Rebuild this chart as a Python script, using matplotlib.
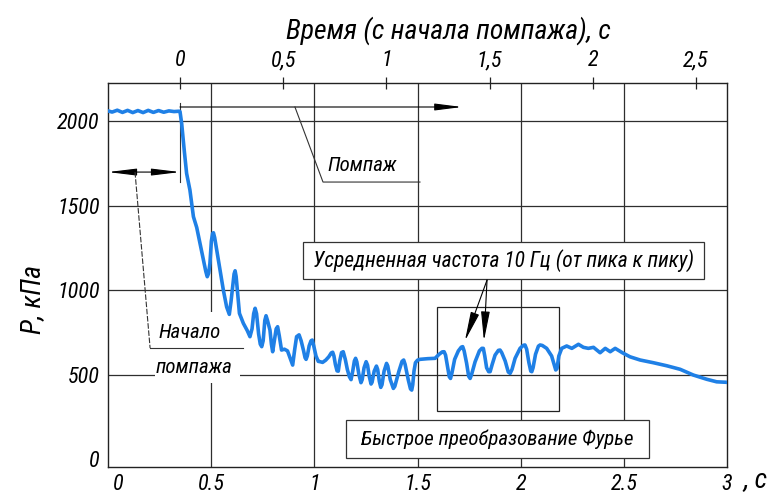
import matplotlib
matplotlib.use('Agg')
import matplotlib.pyplot as plt
from matplotlib import font_manager as fm
from matplotlib.patches import Rectangle
import matplotlib.transforms as mtrans

# ---------------- data ----------------
time_s = [0.0, 0.02, 0.045, 0.07, 0.095, 0.12, 0.145, 0.17, 0.195, 0.22, 0.245, 0.27, 0.295, 0.32, 0.345,
          0.349, 0.357, 0.370, 0.381, 0.397, 0.414, 0.430, 0.446, 0.462, 0.474, 0.481, 0.488, 0.494, 0.501, 0.507,
          0.511, 0.517, 0.527, 0.543, 0.559, 0.575, 0.588, 0.596, 0.604, 0.611, 0.616, 0.621, 0.627, 0.637, 0.656,
          0.675, 0.688, 0.698, 0.706, 0.713, 0.720, 0.730, 0.738, 0.745, 0.752, 0.760, 0.766, 0.773, 0.785,
          0.792, 0.798, 0.806, 0.815, 0.822, 0.830, 0.841, 0.855, 0.870, 0.882, 0.895, 0.905, 0.914, 0.926,
          0.936, 0.948, 0.955, 0.960, 0.966, 0.975, 0.984, 0.990, 0.997, 1.008, 1.019, 1.028, 1.040, 1.055,
          1.070, 1.082, 1.089, 1.095, 1.102, 1.110, 1.116, 1.123, 1.132, 1.140, 1.150, 1.160, 1.170, 1.178,
          1.186, 1.194, 1.200, 1.206, 1.216, 1.226, 1.232, 1.241, 1.251, 1.258, 1.266, 1.275, 1.280, 1.290,
          1.301, 1.307, 1.315, 1.322, 1.328, 1.338, 1.350, 1.356, 1.368, 1.383, 1.390, 1.410, 1.425, 1.433,
          1.440, 1.455, 1.466, 1.472, 1.477, 1.483, 1.490, 1.500, 1.512, 1.550, 1.585, 1.605, 1.620, 1.629,
          1.636, 1.645, 1.654, 1.660, 1.667, 1.680, 1.698, 1.712, 1.719, 1.726, 1.738, 1.748, 1.755, 1.762,
          1.779, 1.800, 1.812, 1.819, 1.826, 1.835, 1.845, 1.852, 1.862, 1.876, 1.892, 1.900, 1.908, 1.925,
          1.940, 1.949, 1.958, 1.973, 1.997, 2.013, 2.021, 2.029, 2.040, 2.049, 2.054, 2.060, 2.072, 2.086,
          2.094, 2.105, 2.126, 2.150, 2.162, 2.170, 2.176, 2.185, 2.199, 2.223, 2.248, 2.280, 2.304, 2.328,
          2.353, 2.385, 2.410, 2.434, 2.458, 2.477, 2.493, 2.530, 2.579, 2.643, 2.708, 2.773, 2.837, 2.902,
          2.950, 3.000]
pressure_kpa = [2060, 2053, 2064, 2051, 2063, 2050, 2062, 2050, 2063, 2051, 2062, 2052, 2060, 2056, 2058,
                2056, 1986, 1820, 1690, 1592, 1434, 1370, 1276, 1180, 1110, 1079, 1100, 1158, 1290, 1335,
                1339, 1310, 1237, 1118, 1000, 900, 856, 930, 1020, 1095, 1114, 1080, 1000, 862, 803,
                760, 724, 770, 860, 892, 860, 740, 680, 665, 700, 820, 848, 820, 763,
                680, 635, 700, 770, 783, 730, 645, 650, 640, 600, 556, 650, 724, 735,
                700, 640, 600, 590, 610, 670, 700, 704, 670, 610, 578, 576, 572, 585,
                605, 628, 632, 610, 560, 522, 520, 580, 630, 635, 590, 530, 487, 470,
                520, 580, 596, 575, 500, 452, 470, 540, 576, 555, 490, 444, 455, 520,
                550, 530, 460, 424, 440, 520, 566, 550, 470, 418, 430, 520, 578, 586,
                560, 470, 415, 408, 440, 520, 570, 585, 590, 594, 596, 620, 634, 635,
                615, 550, 487, 477, 510, 590, 640, 662, 665, 640, 567, 490, 477, 500,
                575, 640, 655, 655, 610, 540, 517, 517, 560, 615, 643, 645, 630, 580,
                515, 507, 530, 596, 655, 673, 675, 650, 570, 520, 517, 540, 620, 668,
                675, 672, 655, 610, 560, 527, 535, 610, 655, 669, 655, 679, 661, 655,
                661, 629, 655, 635, 655, 641, 629, 605, 586, 570, 552, 531, 497, 472,
                457, 454]

x_ticks = [0, 0.5, 1, 1.5, 2, 2.5, 3]
x_tick_labels = ["0", "0.5", "1", "1.5", "2", "2.5", "3"]
y_ticks = [0, 500, 1000, 1500, 2000]
y_tick_labels = ["0", "500", "1000", "1500", "2000"]
surge_offset = 0.349
top_ticks = [0, 0.5, 1, 1.5, 2, 2.5]
top_tick_labels = ["0", "0,5", "1", "1,5", "2", "2,5"]

# ---------------- font ----------------
names = {f.name for f in fm.fontManager.ttflist}
FONT = 'DejaVu Sans'
for c in ['Liberation Sans Narrow', 'Roboto Condensed', 'DejaVu Sans Condensed',
          'Open Sans Condensed', 'Liberation Sans']:
    if c in names:
        FONT = c
        break
plt.rcParams['font.family'] = [FONT, 'DejaVu Sans']
plt.rcParams['font.style'] = 'italic'

W, H = 783, 497
fig = plt.figure(figsize=(W / 100, H / 100), dpi=100)
ax = fig.add_axes([108 / W, 30 / H, (727 - 108) / W, (467 - 83) / H])
ax.set_xlim(0, 3)
ax.set_ylim(-47, 2225)

GRID = '#2e2e2e'
for x in x_ticks[1:-1]:
    ax.axvline(x, color=GRID, lw=0.9, zorder=1)
for y in y_ticks[1:]:
    ax.axhline(y, color=GRID, lw=0.9, zorder=1)

ax.plot(time_s, pressure_kpa, color='#1f80e6', lw=2.6, zorder=6,
        solid_joinstyle='round', solid_capstyle='round')

for s in ax.spines.values():
    s.set_color('#222222')
    s.set_linewidth(1.0)

ax.set_xticks(x_ticks, x_tick_labels)
ax.set_yticks(y_ticks, y_tick_labels)
ax.tick_params(axis='x', length=0, labelsize=16, pad=5)
ax.tick_params(axis='y', length=0, labelsize=16, pad=6)
lab0 = ax.get_xticklabels()[0]
lab0.set_transform(lab0.get_transform() + mtrans.ScaledTranslation(10 / 100, 0, fig.dpi_scale_trans))

sec = ax.secondary_xaxis('top', functions=(lambda x: x - surge_offset, lambda x: x + surge_offset))
sec.set_xticks(top_ticks, top_tick_labels)
sec.tick_params(direction='inout', length=9, width=0.9, labelsize=16, pad=4, color='#222222')
sec.spines['top'].set_visible(False)

# axis titles
fig.text(448 / W, 1 - 31 / H, 'Время (с начала помпажа), с', ha='center', va='center', fontsize=20)
fig.text(33 / W, 1 - 300 / H, 'P, кПа', ha='center', va='center', fontsize=20, rotation=90)
fig.text(744 / W, 1 - 480 / H, ', с', ha='left', va='center', fontsize=20)

LINE = '#333333'
ax.plot([surge_offset, surge_offset], [2107, 1639], color=LINE, lw=0.8, zorder=3)
ax.annotate('', xy=(1.716, 2083), xytext=(surge_offset, 2083),
            arrowprops=dict(arrowstyle='-|>,head_length=1.1,head_width=0.14', color='k', lw=0.8,
                            shrinkA=0, shrinkB=0, mutation_scale=15), zorder=3)
ax.annotate('', xy=(0.0, 1698), xytext=(surge_offset, 1698),
            arrowprops=dict(arrowstyle='<|-|>,head_length=1.15,head_width=0.14', color='k', lw=0.8,
                            shrinkA=0, shrinkB=0, mutation_scale=15), zorder=3)

# "Помпаж" leader
ax.plot([0.906, 1.042, 1.512], [2083, 1639, 1639], color=LINE, lw=0.8, zorder=3)
ax.text(1.231, 1734, 'Помпаж', ha='center', va='center', fontsize=15, zorder=4)

# "Начало помпажа" leader
ax.add_patch(Rectangle((0.228, 450), 0.64 - 0.228, 870 - 450, facecolor='white', edgecolor='none', zorder=2))
ax.plot([0.131, 0.204], [1698, 657], color=LINE, lw=0.8, ls=(0, (5, 1.5)), zorder=3)
ax.plot([0.204, 0.654], [657, 657], color=LINE, lw=0.8, zorder=3)
ax.text(0.397, 746, 'Начало', ha='center', va='center', fontsize=15, zorder=4)
ax.text(0.415, 540, 'помпажа', ha='center', va='center', fontsize=15, zorder=4)

# averaged frequency box + arrows
ax.add_patch(Rectangle((0.945, 1065), 2.889 - 0.945, 1284 - 1065, facecolor='white',
                       edgecolor=LINE, lw=0.9, zorder=3))
ax.text(1.917, 1175, 'Усредненная частота 10 Гц (от пика к пику)', ha='center', va='center',
        fontsize=15.5, zorder=4)
for tip in [(1.730, 700), (1.822, 700)]:
    ax.annotate('', xy=tip, xytext=(1.837, 1059),
                arrowprops=dict(arrowstyle='-|>,head_length=1.2,head_width=0.18', color='k', lw=0.8,
                                shrinkA=0, shrinkB=0, mutation_scale=15), zorder=7)

# FFT window
ax.add_patch(Rectangle((1.595, 284), 2.186 - 1.595, 899 - 284, facecolor='none',
                       edgecolor='#222222', lw=0.9, zorder=4))
ax.add_patch(Rectangle((1.153, 6), 2.622 - 1.153, 231 - 6, facecolor='white',
                       edgecolor=LINE, lw=0.9, zorder=3))
ax.text(1.888, 118, 'Быстрое преобразование Фурье', ha='center', va='center', fontsize=15, zorder=4)

fig.savefig('out.png', dpi=100)
